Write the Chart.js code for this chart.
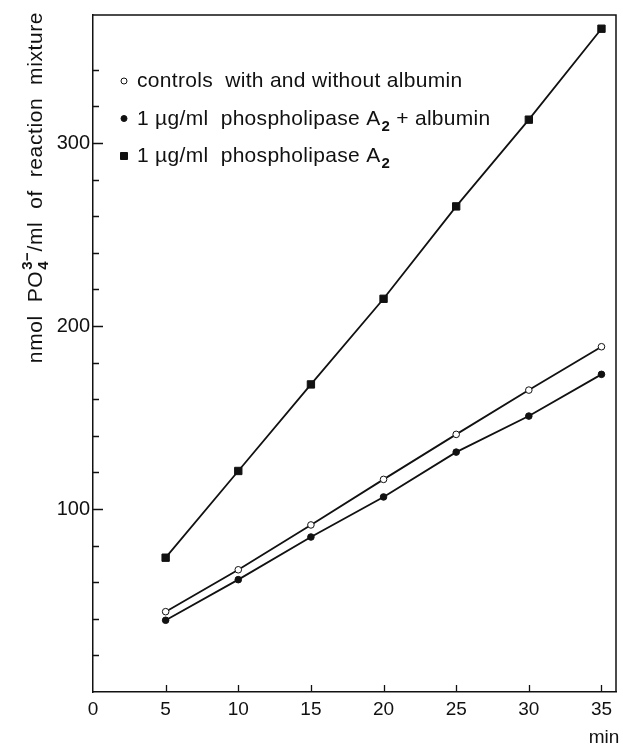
<!DOCTYPE html>
<html>
<head>
<meta charset="utf-8">
<script src="https://cdn.jsdelivr.net/npm/chart.js@4/dist/chart.umd.min.js"></script>
<style>
html,body{margin:0;padding:0;background:#fff;}
#wrap{width:623px;height:747px;position:relative;}
canvas{display:block;}
</style>
</head>
<body>
<div id="wrap"><canvas id="c" width="623" height="747"></canvas></div>
<script>
// ---- data ----
const times = [5, 10, 15, 20, 25, 30, 35];                       // min
const controls = [43.9, 66.8, 91.3, 116.2, 140.8, 165.0, 188.7];  // open circles
const plaAlbumin = [39.2, 61.4, 84.7, 106.6, 131.1, 150.8, 173.6];// filled circles
const pla = [73.4, 120.8, 168.1, 214.9, 265.4, 312.8, 362.5];     // filled squares
const seriesLabels = [
  'controls  with and without albumin',
  '1 µg/ml  phospholipase A₂ + albumin',
  '1 µg/ml  phospholipase A₂'
];
const xTickValues = [0, 5, 10, 15, 20, 25, 30, 35];
const yLabelledTicks = [100, 200, 300];
const xTitle = 'min';
const yTitleParts = ['nmol  PO', '3−', '4', '/ml  of  reaction  mixture'];

const FONT = '"Liberation Sans", Arial, Helvetica, sans-serif';
const INK = '#111';

function toPoints(ys) { return times.map((t, i) => ({ x: t, y: ys[i] })); }

function parseLabel(str) {
  const out = [];
  str.split(/(₂)/).forEach(p => {
    if (!p) return;
    if (p === '₂') out.push({ sub: '2' }); else out.push({ t: p });
  });
  return out;
}

function segWidth(ctx, s, size) {
  if (s.sub) { ctx.font = `bold ${Math.round(size * 0.7)}px ${FONT}`; return ctx.measureText(s.sub).width; }
  if (s.stack) { ctx.font = `bold ${Math.round(size * 0.7)}px ${FONT}`; return Math.max(...s.stack.map(t => ctx.measureText(t).width)); }
  ctx.font = `${size}px ${FONT}`; return ctx.measureText(s.t).width;
}
function drawRich(ctx, segs, x, y, size, align, spacing) {
  ctx.save();
  ctx.letterSpacing = spacing || '0px';
  ctx.textBaseline = 'alphabetic';
  ctx.textAlign = 'left';
  ctx.fillStyle = INK;
  const total = segs.reduce((a, s) => a + segWidth(ctx, s, size), 0);
  let cx = align === 'center' ? x - total / 2 : x;
  for (const s of segs) {
    const w = segWidth(ctx, s, size);
    if (s.sub) {
      ctx.fillText(s.sub, cx + 1, y + size * 0.3);
    } else if (s.stack) {
      ctx.fillText(s.stack[0], cx + 1, y - size * 0.5);
      ctx.fillText(s.stack[1], cx + 1, y + size * 0.28);
    } else {
      ctx.fillText(s.t, cx, y);
    }
    cx += w + (s.sub || s.stack ? 1 : 0);
  }
  ctx.restore();
}

const decor = {
  id: 'decor',
  afterDraw(chart) {
    const { ctx, chartArea: a, scales } = chart;
    const xs = scales.x, ys = scales.y;
    ctx.save();
    ctx.strokeStyle = INK;
    ctx.lineWidth = 1.5;
    // frame (top and right)
    ctx.beginPath();
    ctx.moveTo(a.left, a.top); ctx.lineTo(a.right, a.top); ctx.lineTo(a.right, a.bottom);
    ctx.stroke();
    // inward ticks
    ctx.lineWidth = 1.3;
    ctx.beginPath();
    xs.ticks.forEach(t => {
      if (t.value <= 0) return;
      const px = Math.round(xs.getPixelForValue(t.value)) + 0.5;
      ctx.moveTo(px, a.bottom); ctx.lineTo(px, a.bottom - 7);
    });
    ys.ticks.forEach(t => {
      if (t.value <= 0) return;
      const py = Math.round(ys.getPixelForValue(t.value)) + 0.5;
      const len = yLabelledTicks.includes(t.value) ? 10 : 6;
      ctx.moveTo(a.left, py); ctx.lineTo(a.left + len, py);
    });
    ctx.stroke();
    ctx.restore();

    // legend (inside plot)
    const lx = 124, textX = 137, baseY = 87, step = 37.5;
    chart.data.datasets.forEach((ds, i) => {
      const by = baseY + i * step;
      const my = by - 6;
      ctx.save();
      ctx.fillStyle = ds.pointBackgroundColor;
      ctx.strokeStyle = INK;
      ctx.lineWidth = 1;
      ctx.beginPath();
      if (ds.pointStyle === 'rect') {
        ctx.rect(lx - 3.5, my - 3.5, 7, 7);
        ctx.fill(); ctx.stroke();
      } else {
        ctx.arc(lx, my, 3, 0, Math.PI * 2);
        ctx.fill(); ctx.stroke();
      }
      ctx.restore();
      drawRich(ctx, parseLabel(ds.label), textX, by, 21, 'left', '0.3px');
    });

    // y axis title (rotated, with stacked super/subscript)
    ctx.save();
    ctx.translate(42, 188);
    ctx.rotate(-Math.PI / 2);
    drawRich(ctx, [{ t: yTitleParts[0] }, { stack: [yTitleParts[1], yTitleParts[2]] }, { t: yTitleParts[3] }], 0, 0, 21, 'center', '0.6px');
    ctx.restore();

    // x axis unit
    ctx.save();
    ctx.font = `19px ${FONT}`;
    ctx.fillStyle = INK;
    ctx.textAlign = 'center';
    ctx.textBaseline = 'alphabetic';
    ctx.fillText(xTitle, 604, 743);
    ctx.restore();
  }
};

const chart = new Chart(document.getElementById('c'), {
  type: 'scatter',
  data: {
    datasets: [
      { label: seriesLabels[0], data: toPoints(controls), showLine: true,
        borderColor: INK, borderWidth: 1.8, pointStyle: 'circle', pointRadius: 3.3,
        pointBackgroundColor: '#fff', pointBorderColor: INK, pointBorderWidth: 1 },
      { label: seriesLabels[1], data: toPoints(plaAlbumin), showLine: true,
        borderColor: INK, borderWidth: 1.8, pointStyle: 'circle', pointRadius: 3.3,
        pointBackgroundColor: INK, pointBorderColor: INK, pointBorderWidth: 1 },
      { label: seriesLabels[2], data: toPoints(pla), showLine: true,
        borderColor: INK, borderWidth: 1.8, pointStyle: 'rect', pointRadius: 5.2,
        pointBackgroundColor: INK, pointBorderColor: INK, pointBorderWidth: 1 }
    ]
  },
  options: {
    responsive: false,
    animation: false,
    devicePixelRatio: 1,
    layout: { padding: { top: 14, right: 7, left: 0, bottom: 0 } },
    plugins: { legend: { display: false }, tooltip: { enabled: false } },
    elements: { line: { tension: 0 } },
    scales: {
      x: {
        type: 'linear', min: 0, max: 36,
        grid: { display: false, drawTicks: false },
        border: { display: true, color: INK, width: 1.5 },
        ticks: { stepSize: 5, autoSkip: false, maxRotation: 0, padding: 6,
          color: INK, font: { family: FONT, size: 19 } },
        afterBuildTicks: s => { s.ticks = xTickValues.map(v => ({ value: v })); },
        afterFit: s => { s.height = 55; }
      },
      y: {
        type: 'linear', min: 0, max: 370,
        grid: { display: false, drawTicks: false },
        border: { display: true, color: INK, width: 1.5 },
        ticks: { stepSize: 20, autoSkip: false, padding: 3, color: INK,
          font: { family: FONT, size: 20 },
          callback: v => yLabelledTicks.includes(v) ? String(v) : '' },
        afterBuildTicks: s => { s.ticks = s.ticks.filter(t => t.value <= 360); },
        afterFit: s => { s.width = 93; }
      }
    }
  },
  plugins: [decor]
});
</script>
</body>
</html>
